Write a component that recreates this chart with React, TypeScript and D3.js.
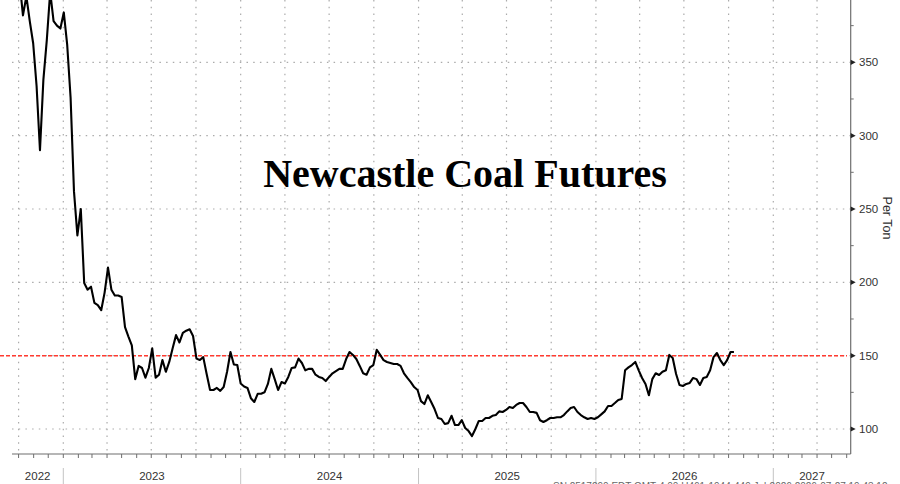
import React from "react";
import * as d3 from "d3";

// ---- data ----
const START_WEEK = "2022-10-03";
const weeklyPrice = [
  405, 382, 395, 378, 363, 334, 290, 338, 365, 398,
  378, 375, 373, 384, 362, 326, 262, 232, 250, 199.5,
  195, 197, 186, 184.5, 181, 193, 210, 195, 191, 191,
  190, 169.5, 163, 157, 134, 143, 141.6, 135, 141.6, 155,
  135, 137, 147, 139, 145.7, 155, 164, 159, 165.5, 167,
  168, 163.4, 148, 147, 149, 137.5, 126.6, 126.6, 128, 126,
  128.6, 139, 152.5, 144, 143.6, 131, 129, 128, 121, 118.4,
  124, 124, 125, 130.7, 141, 134, 126.6, 132, 131, 135.5,
  141.6, 142, 148, 145, 140, 141, 141, 137, 135.5, 134.8,
  132.7, 135.5, 138, 139.5, 141, 141, 147.7, 152.5, 150.5, 147.7,
  143, 138, 137, 142, 143.6, 154, 150.5, 147, 145.7, 145,
  144.3, 144.3, 143, 138, 134.8, 132, 128.6, 126.6, 119, 117,
  123, 118.4, 113.6, 107.5, 106.8, 103.4, 104, 109, 102.7, 102.7,
  106, 100.7, 98.6, 95.2, 100, 105.5, 105.5, 107.5, 107.5, 109,
  109.5, 112, 111.6, 113, 115, 114.3, 116.4, 117.7, 117.7, 115,
  111.6, 111.6, 111, 106, 104.8, 106, 107.5, 107.5, 108, 108,
  109.5, 112, 114.3, 115, 111.6, 109.5, 108, 106.8, 107.5, 106.8,
  108, 110, 112, 115.7, 115.7, 117.7, 119.8, 120.5, 140, 142,
  143.6, 145.7, 140, 134.8, 130.7, 123, 134, 138, 136.8, 139,
  140, 150.5, 148.4, 137.5, 130, 129.3, 130.7, 131.4, 134.8, 134,
  130, 134.8, 135.5, 140, 149, 151.8, 147, 143.6, 147, 152.5,
  152.5,
];
const yTicks = [100, 150, 200, 250, 300, 350];
const yMinorTicks = [125, 175, 225, 275, 325, 375];
const referenceLevel = 150;
const TITLE = "Newcastle Coal Futures";
const UNIT = "Per Ton";
const FOOTNOTE = "SN 2517290 EDT  GMT-4:00 H461-1944-449 Jul-2026 2026-07-27 19:43:12";

export default function App() {
  const W = 900;
  const H = 484;
  const plotLeft = 12;
  const plotRight = 850.7;
  const plotTop = 0;
  const plotBottom = 454;

  const x = d3
    .scaleUtc()
    .domain([new Date(Date.UTC(2023, 0, 1)), new Date(Date.UTC(2027, 0, 1))])
    .range([63.3, 773.3]);
  const y = d3.scaleLinear().domain([100, 350]).range([429, 62.3]);

  const start = new Date(START_WEEK + "T00:00:00Z");
  const data = weeklyPrice.map((v, i) => ({ date: d3.utcDay.offset(start, i * 7), v }));
  const line = d3
    .line<{ date: Date; v: number }>()
    .x((d) => x(d.date))
    .y((d) => y(d.v));

  const dMin = x.invert(plotLeft);
  const dMax = x.invert(plotRight);
  const quarters = d3.utcMonth.every(3)!.range(dMin, dMax);
  const months = d3.utcMonth.range(dMin, dMax);
  const yearBounds = d3.utcYear.range(dMin, dMax);
  const yearStarts = [d3.utcYear.floor(dMin), ...yearBounds];
  const yearLabels = yearStarts.map((ys) => {
    const ye = d3.utcYear.offset(ys, 1);
    const a = Math.max(x(ys), plotLeft);
    const b = Math.min(x(ye), plotRight);
    return { label: d3.utcFormat("%Y")(ys), cx: (a + b) / 2 };
  });

  const gridColor = "#ababab";
  const axisColor = "#6e6e6e";
  const textColor = "#333";
  const sans = "'Liberation Sans', Arial, sans-serif";

  return (
    <svg
      width={W}
      height={H}
      style={{ position: "absolute", left: 0, top: 0, background: "#fff" }}
    >
      <defs>
        <clipPath id="plotClip">
          <rect x={0} y={plotTop} width={plotRight} height={plotBottom - plotTop} />
        </clipPath>
      </defs>
      <rect x={0} y={0} width={W} height={H} fill="#fff" />

      {/* horizontal gridlines */}
      {yTicks.map((t) => (
        <line
          key={"hg" + t}
          x1={plotLeft}
          x2={plotRight}
          y1={y(t)}
          y2={y(t)}
          stroke={gridColor}
          strokeWidth={1.2}
          strokeDasharray="1.5,5.2"
        />
      ))}
      {/* vertical gridlines (quarterly) */}
      {quarters.map((q) => (
        <line
          key={"vg" + q.toISOString()}
          x1={x(q)}
          x2={x(q)}
          y1={plotTop}
          y2={plotBottom}
          stroke={gridColor}
          strokeWidth={1.2}
          strokeDasharray="1.5,5.2"
        />
      ))}

      {/* title */}
      <text
        x={465}
        y={187}
        textAnchor="middle"
        fontFamily="'Liberation Serif', 'Times New Roman', serif"
        fontWeight="bold"
        fontSize={40}
        fill="#000"
      >
        {TITLE}
      </text>

      {/* reference level */}
      <line
        x1={0}
        x2={847}
        y1={y(referenceLevel)}
        y2={y(referenceLevel)}
        stroke="#ff3b30"
        strokeWidth={1.5}
        strokeDasharray="4,2"
      />

      {/* price line */}
      <path
        d={line(data) || ""}
        fill="none"
        stroke="#000"
        strokeWidth={2.1}
        strokeLinejoin="round"
        clipPath="url(#plotClip)"
      />

      {/* axes */}
      <line x1={plotRight} x2={plotRight} y1={0} y2={plotBottom} stroke={axisColor} strokeWidth={1.2} />
      <line x1={plotLeft} x2={plotRight} y1={plotBottom} y2={plotBottom} stroke={axisColor} strokeWidth={1.2} />

      {/* x month ticks */}
      {months.map((m) => (
        <line
          key={"mt" + m.toISOString()}
          x1={x(m)}
          x2={x(m)}
          y1={plotBottom}
          y2={plotBottom + 4}
          stroke={axisColor}
          strokeWidth={1}
        />
      ))}
      {/* year separators */}
      {yearBounds.map((yb) => (
        <line
          key={"ys" + yb.toISOString()}
          x1={x(yb)}
          x2={x(yb)}
          y1={468}
          y2={H}
          stroke="#c4c4c4"
          strokeWidth={1}
        />
      ))}
      {yearLabels.map((yl) => (
        <text
          key={"yl" + yl.label}
          x={yl.cx}
          y={480}
          textAnchor="middle"
          fontFamily={sans}
          fontSize={11.5}
          fill={textColor}
        >
          {yl.label}
        </text>
      ))}

      {/* y ticks */}
      {yMinorTicks.map((t) => (
        <line
          key={"ymt" + t}
          x1={plotRight}
          x2={plotRight + 3}
          y1={y(t)}
          y2={y(t)}
          stroke={axisColor}
          strokeWidth={1}
        />
      ))}
      {yTicks.map((t) => (
        <g key={"yt" + t}>
          <path
            d={`M${plotRight},${y(t) - 2.6} L${plotRight + 5},${y(t)} L${plotRight},${y(t) + 2.6} Z`}
            fill="#222"
          />
          <text
            x={859}
            y={y(t) + 4}
            fontFamily={sans}
            fontSize={11.5}
            fill={textColor}
          >
            {t}
          </text>
        </g>
      ))}
      <text
        transform={`translate(883,218) rotate(90)`}
        textAnchor="middle"
        fontFamily={sans}
        fontSize={12.5}
        fill={textColor}
      >
        {UNIT}
      </text>

      {/* footnote (cut by bottom edge, as in the reference) */}
      <text x={553} y={490} fontFamily={sans} fontSize={10} fill="#666">
        {FOOTNOTE}
      </text>
    </svg>
  );
}
